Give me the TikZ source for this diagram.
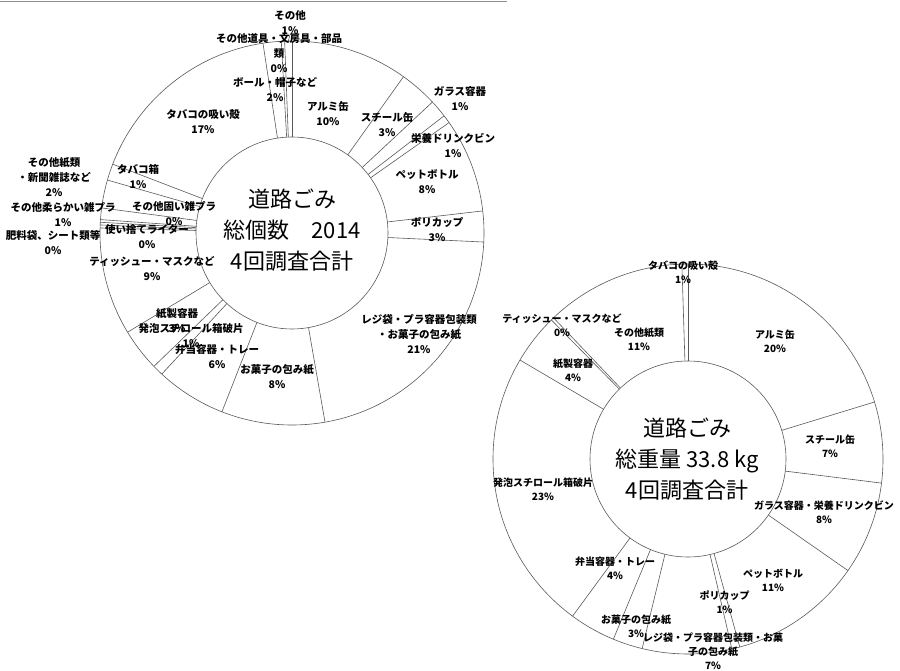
\documentclass[tikz,border=0pt]{standalone}
\usepackage{fontspec}
\setmainfont{Noto Sans CJK JP}
\usetikzlibrary{calc}

\begin{document}
\begin{tikzpicture}[x=1pt, y=-1pt,
        ring/.style={draw=black!65, line width=0.6pt},
        cut/.style={draw=black!65, line width=0.6pt},
        labL/.style={align=center, inner sep=0pt, font=\fontsize{10.5}{15}\selectfont\bfseries},
        labR/.style={align=center, inner sep=0pt, font=\fontsize{10}{14}\selectfont\bfseries},
        ttl/.style={align=center, inner sep=0pt, font=\fontsize{22}{31}\selectfont}]

    \useasboundingbox (0,0) rectangle (900,671);
    \draw[black!45, line width=1.2pt] (0,1.5) -- (507,1.5);

    % count chart
    \coordinate (cL) at (292,233);
    \draw[ring] (cL) circle[radius=192] (cL) circle[radius=96];
    \foreach \a in {0,35.5,47,52.4,54.9,83.4,92.7,170.1,201.4,222.7,226,238.9,
                    271.5,272.4,273.2,274,277.5,286,291,351.3,356.8,357.8}
        \draw[cut] ($(cL)+(\a-90:96)$) -- ($(cL)+(\a-90:192)$);

    \node[ttl] (ttlL) at (292,230) {道路ごみ\\総個数　2014\\4回調査合計};

    \node[labL] (lOth) at (290,22.5) {その他\\1\%};
    \node[labL] (lTool) at (279,53) {その他道具・文房具・部品\\類\\0\%};
    \node[labL] (lBall) at (275,89.5) {ボール・帽子など\\2\%};
    \node[labL] (lButt) at (203,121.5) {タバコの吸い殻\\17\%};
    \node[labL] (lAlu) at (328,113.5) {アルミ缶\\10\%};
    \node[labL] (lSteel) at (387,124.5) {スチール缶\\3\%};
    \node[labL] (lGlass) at (460,98.5) {ガラス容器\\1\%};
    \node[labL] (lDrink) at (453,145) {栄養ドリンクビン\\1\%};
    \node[labL] (lPet) at (427,181.5) {ペットボトル\\8\%};
    \node[labL] (lCup) at (437,229.5) {ポリカップ\\3\%};
    \node[labL] (lBag) at (419,334) {レジ袋・プラ容器包装類\\・お菓子の包み紙\\21\%};
    \node[labL] (lSnack) at (277,376.5) {お菓子の包み紙\\8\%};
    \node[labL] (lBento) at (217,356.5) {弁当容器・トレー\\6\%};
    \node[labL] (lFoam) at (191,335.5) {発泡スチロール箱破片\\1\%};
    \node[labL] (lPaper) at (177,320.5) {紙製容器\\3\%};
    \node[labL] (lTiss) at (152,268.5) {ティッシュー・マスクなど\\9\%};
    \node[labL] (lLight) at (147,236.5) {使い捨てライター\\0\%};
    \node[labL] (lSheet) at (53,243) {肥料袋、シート類等\\0\%};
    \node[labL] (lSoft) at (63,214.5) {その他柔らかい雑プラ\\1\%};
    \node[labL] (lHard) at (174,213.5) {その他固い雑プラ\\0\%};
    \node[labL] (lNews) at (54,177) {その他紙類\\・新聞雑誌など\\2\%};
    \node[labL] (lBox) at (138,177) {タバコ箱\\1\%};

    \coordinate (oEnd) at ($(cL)+(358.9-90:192)$);
    \draw[cut] (lOth.south) -- (oEnd);

    % weight chart
    \coordinate (cR) at (688,459);
    \draw[ring] (cR) circle[radius=195] (cR) circle[radius=98];
    \foreach \a in {0,73,97.1,124.9,164.6,167,193.6,202.5,216.3,300.5,315.5,316.4,358.2}
        \draw[cut] ($(cR)+(\a-90:98)$) -- ($(cR)+(\a-90:195)$);

    \node[ttl] (ttlR) at (687,459) {道路ごみ\\総重量 33.8 kg\\4回調査合計};

    \node[labR] (rButt) at (683,272) {タバコの吸い殻\\1\%};
    \node[labR] (rAlu) at (775,341.5) {アルミ缶\\20\%};
    \node[labR] (rSteel) at (830,446.5) {スチール缶\\7\%};
    \node[labR] (rGlass) at (824,512.5) {ガラス容器・栄養ドリンクビン\\8\%};
    \node[labR] (rPet) at (773,580) {ペットボトル\\11\%};
    \node[labR] (rCup) at (724.5,602) {ポリカップ\\1\%};
    \node[labR] (rBag) at (713,651) {レジ袋・プラ容器包装類・お菓\\子の包み紙\\7\%};
    \node[labR] (rSnack) at (636,626) {お菓子の包み紙\\3\%};
    \node[labR] (rBento) at (615,568.5) {弁当容器・トレー\\4\%};
    \node[labR] (rFoam) at (543,489) {発泡スチロール箱破片\\23\%};
    \node[labR] (rPaper) at (573,370) {紙製容器\\4\%};
    \node[labR] (rTiss) at (562,325) {ティッシュー・マスクなど\\0\%};
    \node[labR] (rNews) at (639,339.5) {その他紙類\\11\%};

\end{tikzpicture}
\end{document}
